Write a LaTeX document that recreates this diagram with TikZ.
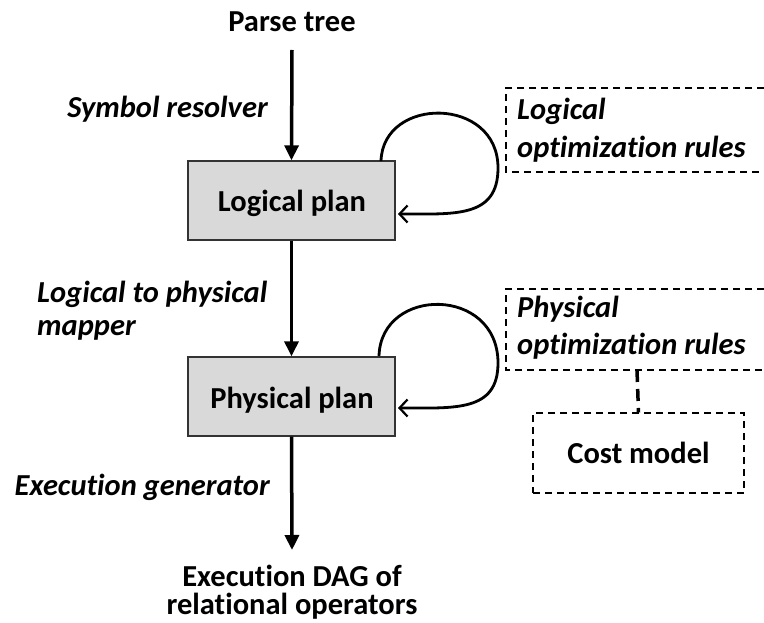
\documentclass[tikz,border=0pt]{standalone}
\usepackage{fontspec}
\setmainfont{Carlito}[Ligatures=NoCommon]
\usetikzlibrary{arrows.meta}
\begin{document}
\begin{tikzpicture}[x=1pt,y=-1pt,
  txt/.style={font=\fontsize{30.5}{34}\selectfont\bfseries, inner sep=0pt},
  lbl/.style={font=\fontsize{30.5}{34}\selectfont\bfseries\itshape, inner sep=0pt},
  plan/.style={draw=black!80, line width=1.4pt, fill=black!15, minimum width=207pt, minimum height=79pt},
  dbox/.style={draw=black, line width=1.3pt, dash pattern=on 7pt off 5pt},
  flow/.style={line width=3.5pt, -{Triangle[length=15pt,width=14pt]}},
  loop/.style={line width=2.8pt, -{Straight Barb[length=8pt,width=17pt,line width=2.2pt]}}
]
\useasboundingbox (0,0) rectangle (764,623);
\node[txt, anchor=base] (parse) at (292,32) {Parse tree};
\node[plan] (lp) at (291.5,200.5) {};
\node[txt, anchor=base] (lpt) at (292,212) {Logical plan};
\node[plan] (pp) at (291.5,396.5) {};
\node[txt, anchor=base] (ppt) at (292,408) {Physical plan};
\node[txt, anchor=base] (dag1) at (292,586) {Execution DAG of};
\node[txt, anchor=base] (dag2) at (292,614) {relational operators};
\coordinate (p1) at (292,50);
\coordinate (d1) at (292,550);
\draw[flow] (p1) -- (lp.north);
\draw[flow] (lp.south) -- (pp.north);
\draw[flow] (pp.south) -- (d1);
\node[lbl, anchor=base east] (sr) at (268,118) {Symbol resolver};
\node[lbl, anchor=base west] (lpm1) at (37,302) {Logical to physical};
\node[lbl, anchor=base west] (lpm2) at (37,335) {mapper};
\node[lbl, anchor=base east] (eg) at (270,495) {Execution generator};
% dashed boxes
\draw[dbox] (764,88) -- (506,88) -- (506,172) -- (764,172);
\node[lbl, anchor=base west] (lor1) at (517,120) {Logical};
\node[lbl, anchor=base west] (lor2) at (517,158) {optimization rules};
\draw[dbox] (764,289) -- (506,289) -- (506,370) -- (764,370);
\node[lbl, anchor=base west] (por1) at (517,317) {Physical};
\node[lbl, anchor=base west] (por2) at (517,354) {optimization rules};
\node[dbox, minimum width=211pt, minimum height=80pt, inner sep=0pt] (cost) at (638.5,453) {};
\node[txt, anchor=base] (costt) at (638.5,463) {Cost model};
\coordinate (pb) at (637,370);
\draw[line width=3.5pt, dash pattern=on 12pt off 7pt] (pb) -- (cost.north);
% loops
\coordinate (l1s) at (381,161);
\coordinate (l1e) at (398,214);
\draw[loop] (l1s) .. controls (383,96) and (498,96) .. (498,168) .. controls (498,218) and (455,214) .. (l1e);
\coordinate (l2s) at (379,356);
\coordinate (l2e) at (398,408);
\draw[loop] (l2s) .. controls (381,286) and (498,286) .. (498,363) .. controls (498,412) and (455,408) .. (l2e);
\end{tikzpicture}
\end{document}
